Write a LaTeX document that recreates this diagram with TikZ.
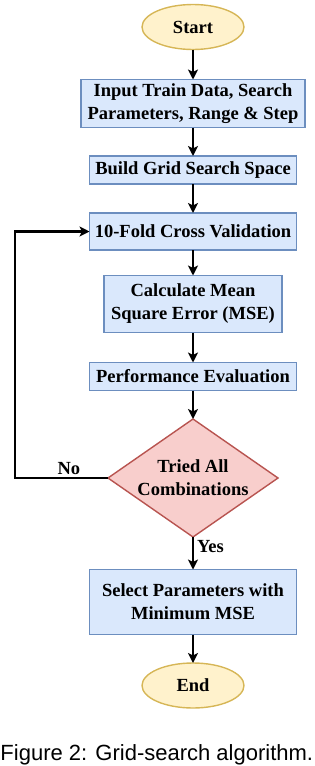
\documentclass[tikz,border=0pt]{standalone}
\usepackage{fontspec}
\setmainfont{Liberation Serif}
\newfontfamily\capfont{Liberation Sans}
\definecolor{termfill}{HTML}{FFF2CC}
\definecolor{termline}{HTML}{D6B656}
\definecolor{procfill}{HTML}{DAE8FC}
\definecolor{procline}{HTML}{6C8EBF}
\definecolor{decfill}{HTML}{F8CECC}
\definecolor{decline}{HTML}{B85450}
\usetikzlibrary{arrows.meta,positioning,shapes.geometric}

\begin{document}
\begin{tikzpicture}[>={Stealth[length=10pt,width=10pt,inset=2.5pt]},
  x=1pt,y=1pt,
  every node/.style={font=\bfseries\fontsize{18.5}{23}\selectfont,outer sep=0pt},
  term/.style={ellipse,draw=termline,fill=termfill,line width=1.4pt,inner sep=0pt,minimum width=102pt,minimum height=45pt},
  proc/.style={draw=procline,fill=procfill,line width=1.4pt,inner sep=0pt,align=center,minimum width=207pt},
  dec/.style={diamond,draw=decline,fill=decfill,line width=1.4pt,inner sep=0pt,align=center,aspect=1.437,minimum width=170pt,minimum height=118pt},
  flow/.style={->,line width=2.2pt}]
  \useasboundingbox (0,0) rectangle (314,-766);
  \node[term] (start) at (193,-27) {Start};
  \node[proc,minimum width=224pt,minimum height=48pt,below=30pt of start] (input) {Input Train Data, Search\\Parameters, Range \& Step};
  \node[proc,minimum height=28pt,below=28.5pt of input] (grid) {Build Grid Search Space};
  \node[proc,minimum height=37pt,below=29pt of grid] (cv) {10-Fold Cross Validation};
  \node[proc,minimum width=178pt,minimum height=57pt,below=25.5pt of cv] (mse) {Calculate Mean\\Square Error (MSE)};
  \node[proc,minimum width=207pt,minimum height=28pt,below=30pt of mse] (perf) {Performance Evaluation};
  \node[dec,below=28.5pt of perf] (tried) {Tried All\\Combinations};
  \node[proc,minimum width=207pt,minimum height=65pt,below=32.5pt of tried] (sel) {Select Parameters with\\Minimum MSE};
  \node[term,below=28.5pt of sel] (end) {End};
  \coordinate (loop) at (15,0);
  % main chain
  \draw[flow] (start) -- (input);
  \draw[flow] (input) -- (grid);
  \draw[flow] (grid) -- (cv);
  \draw[flow] (cv) -- (mse);
  \draw[flow] (mse) -- (perf);
  \draw[flow] (perf) -- (tried);
  \draw[flow] (tried) -- node[right,pos=0.3,inner sep=4pt] {Yes} (sel);
  \draw[flow] (sel) -- (end);
  % back to cross validation
  \draw[flow] (tried.west) -- node[above,pos=0.42,inner sep=3pt] {No} (tried.west -| loop) |- (cv.west);
  \node[font=\capfont\fontsize{22}{26}\selectfont,anchor=base west,inner sep=0pt] (cap) at (0.5,-760) {Figure 2: Grid-search algorithm.};
\end{tikzpicture}
\end{document}
